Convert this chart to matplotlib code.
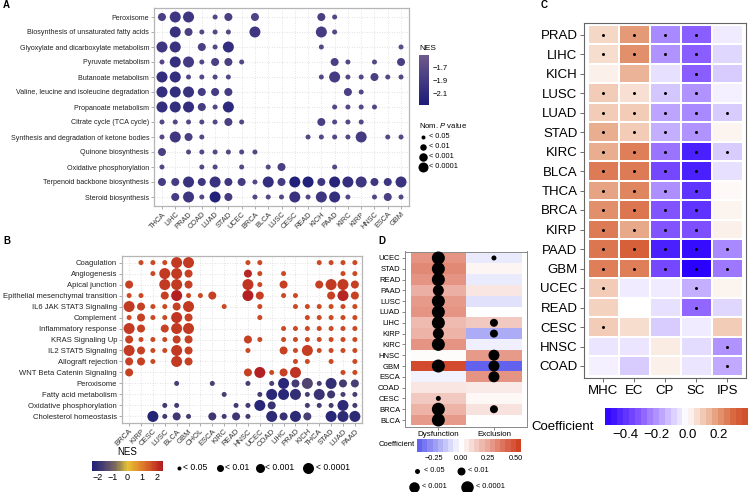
import numpy as np
import matplotlib
matplotlib.use("Agg")
import matplotlib.pyplot as plt
from matplotlib.colors import LinearSegmentedColormap, Normalize

plt.rcParams['font.family'] = ['Liberation Sans', 'DejaVu Sans']
plt.rcParams['mathtext.fontset'] = 'custom'
plt.rcParams['mathtext.rm'] = 'Liberation Sans'
plt.rcParams['mathtext.it'] = 'Liberation Sans:italic'

# ---------------- Panel A data ----------------
A_rows = ["Peroxisome", "Biosynthesis of unsaturated fatty acids", "Glyoxylate and dicarboxylate metabolism",
          "Pyruvate metabolism", "Butanoate metabolism", "Valine, leucine and isoleucine degradation",
          "Propanoate metabolism", "Citrate cycle (TCA cycle)", "Synthesis and degradation of ketone bodies",
          "Quinone biosynthesis", "Oxidative phosphorylation", "Terpenoid backbone biosynthesis",
          "Steroid biosynthesis"]
A_cols = ["THCA", "LIHC", "PRAD", "COAD", "LUAD", "STAD", "UCEC", "BRCA", "BLCA", "LUSC", "CESC",
          "READ", "KICH", "PAAD", "KIRC", "KIRP", "HNSC", "ESCA", "GBM"]
# p-value class: 0 none, 1 <0.05, 2 <0.01, 3 <0.001
A_pclass = [
    [2,3,3,0,1,2,0,2,0,0,0,0,2,1,0,0,0,0,0],
    [0,3,2,1,1,1,0,3,0,0,0,0,3,1,0,0,0,0,0],
    [3,3,0,2,1,3,0,0,0,0,0,0,1,0,0,0,0,0,1],
    [1,3,3,1,2,2,1,0,0,0,0,0,0,2,1,0,1,0,2],
    [3,3,1,1,1,1,0,0,0,0,0,0,1,3,1,1,2,1,1],
    [3,3,3,2,2,2,0,0,0,0,0,0,0,0,2,1,0,0,0],
    [3,3,3,2,1,3,0,0,0,0,0,0,0,1,1,1,1,0,0],
    [1,1,1,1,1,2,1,0,0,0,0,0,2,1,1,1,0,0,0],
    [1,3,2,1,0,0,0,0,0,0,0,1,1,1,1,3,0,1,1],
    [2,0,1,1,1,1,1,1,0,0,0,0,0,0,0,0,0,0,0],
    [1,0,0,1,1,0,1,0,1,2,0,0,0,1,0,0,0,0,0],
    [2,2,3,2,3,2,2,1,3,2,3,3,2,3,3,3,2,2,3],
    [0,2,3,1,3,2,0,1,1,1,3,1,3,3,1,0,1,2,1],
]
A_nes = [
    [-1.85,-1.95,-1.95,0,-1.75,-1.85,0,-1.8,0,0,0,0,-1.85,-1.75,0,0,0,0,0],
    [0,-2.0,-1.85,-1.75,-1.75,-1.75,0,-1.95,0,0,0,0,-1.9,-1.75,0,0,0,0,0],
    [-1.95,-2.0,0,-1.85,-1.75,-2.05,0,0,0,0,0,0,-1.75,0,0,0,0,0,-1.7],
    [-1.75,-2.05,-1.9,-1.75,-1.85,-1.85,-1.75,0,0,0,0,0,0,-1.85,-1.75,0,-1.75,0,-1.85],
    [-2.05,-2.05,-1.75,-1.75,-1.75,-1.75,0,0,0,0,0,0,-1.75,-1.9,-1.75,-1.75,-1.85,-1.75,-1.75],
    [-2.05,-2.05,-2.0,-1.9,-1.9,-1.9,0,0,0,0,0,0,0,0,-1.85,-1.75,0,0,0],
    [-2.05,-2.05,-2.05,-1.9,-1.75,-2.1,0,0,0,0,0,0,0,-1.75,-1.75,-1.75,-1.75,0,0],
    [-1.75,-1.75,-1.75,-1.75,-1.75,-1.85,-1.75,0,0,0,0,0,-1.85,-1.75,-1.75,-1.75,0,0,0],
    [-1.75,-1.95,-1.85,-1.75,0,0,0,0,0,0,0,-1.75,-1.75,-1.75,-1.75,-1.9,0,-1.75,-1.75],
    [-1.85,0,-1.75,-1.75,-1.75,-1.75,-1.75,-1.75,0,0,0,0,0,0,0,0,0,0,0],
    [-1.75,0,0,-1.75,-1.75,0,-1.75,0,-1.75,-1.85,0,0,0,-1.75,0,0,0,0,0],
    [-1.9,-1.9,-2.0,-1.95,-2.0,-1.95,-1.9,-1.75,-2.05,-1.9,-2.2,-2.2,-1.95,-2.15,-2.05,-1.95,-1.95,-1.95,-2.0],
    [0,-1.9,-1.95,-1.75,-2.2,-1.9,0,-1.75,-1.75,-1.75,-2.0,-1.75,-1.95,-2.05,-1.75,0,-1.75,-1.85,-1.75],
]
A_nes_ticks = [-1.7, -1.9, -2.1]

# ---------------- Panel B data ----------------
B_rows = ["Coagulation", "Angiogenesis", "Apical junction", "Epithelial mesenchymal transition",
          "IL6 JAK STAT3 Signaling", "Complement", "Inflammatory response", "KRAS Signaling Up",
          "IL2 STAT5 Signaling", "Allograft rejection", "WNT Beta Catenin Signaling", "Peroxisome",
          "Fatty acid metabolism", "Oxidative phosphorylation", "Cholesterol homeostasis"]
B_cols = ["BRCA", "KIRP", "CESC", "LUSC", "BLCA", "GBM", "CHOL", "ESCA", "KIRC", "READ", "HNSC",
          "UCEC", "COAD", "LIHC", "PRAD", "KICH", "THCA", "STAD", "LUAD", "PAAD"]
B_pclass = [
    [0,1,1,1,3,3,0,0,0,0,1,1,0,0,0,0,1,1,1,1],
    [0,0,1,3,3,2,0,0,0,0,2,1,0,1,0,0,0,0,1,1],
    [2,0,0,3,3,2,0,0,0,0,3,1,0,2,0,0,2,3,3,2],
    [1,1,0,2,3,1,1,2,0,0,3,2,0,1,1,0,0,2,3,2],
    [3,2,1,1,2,3,0,0,1,0,0,1,0,0,1,1,1,1,1,1],
    [1,2,1,1,3,2,0,0,0,0,0,1,0,0,0,1,1,1,1,1],
    [3,2,0,2,3,3,0,0,0,0,0,0,0,1,1,1,1,1,1,1],
    [2,1,1,1,2,2,0,0,0,0,2,1,0,1,1,1,1,1,1,1],
    [3,2,1,1,3,2,0,0,0,0,1,0,0,2,1,3,1,1,1,1],
    [2,2,1,0,3,2,0,0,0,0,0,0,0,0,1,1,0,1,0,1],
    [2,0,0,0,0,0,0,0,0,0,2,3,1,2,3,0,0,0,1,1],
    [0,0,0,0,1,0,0,1,0,0,1,0,1,3,2,3,1,3,2,2],
    [0,0,0,0,0,0,0,0,1,0,0,1,3,3,3,1,3,2,1,1],
    [0,0,0,1,1,0,0,0,0,1,1,3,2,0,0,1,1,1,3,1],
    [0,0,3,1,2,1,0,2,1,2,1,0,3,2,3,2,0,3,3,3],
]
B_nes = [
    [0,1.7,1.7,1.7,1.9,1.9,0,0,0,0,1.7,1.7,0,0,0,0,1.7,1.7,1.7,1.7],
    [0,0,1.7,1.9,1.9,1.8,0,0,0,0,2.2,1.7,0,1.7,0,0,0,0,1.7,1.7],
    [1.8,0,0,1.9,1.9,1.8,0,0,0,0,1.95,1.7,0,1.8,0,0,1.8,1.9,1.9,1.8],
    [1.7,1.7,0,1.8,2.3,1.7,1.7,1.8,0,0,2.3,1.8,0,1.7,1.7,0,0,1.8,2.2,1.8],
    [1.9,1.8,1.7,1.7,1.8,1.9,0,0,1.7,0,0,1.7,0,0,1.7,1.7,1.7,1.7,1.7,1.7],
    [1.7,1.8,1.7,1.7,1.95,1.8,0,0,0,0,0,1.7,0,0,0,1.7,1.7,1.7,1.7,1.7],
    [1.9,1.8,0,1.8,1.9,1.9,0,0,0,0,0,0,0,1.7,1.7,1.7,1.7,1.7,1.7,1.7],
    [1.8,1.7,1.7,1.7,1.8,1.8,0,0,0,0,1.8,1.7,0,1.7,1.7,1.7,1.7,1.7,1.7,1.7],
    [1.9,1.8,1.7,1.7,1.9,1.8,0,0,0,0,1.7,0,0,1.8,1.7,1.85,1.7,1.7,1.7,1.7],
    [1.8,1.8,1.7,0,1.9,1.8,0,0,0,0,0,0,0,0,1.7,1.7,0,1.7,0,1.7],
    [1.8,0,0,0,0,0,0,0,0,0,1.8,2.3,1.7,1.8,2.0,0,0,0,1.7,1.7],
    [0,0,0,0,-1.6,0,0,-1.6,0,0,-1.6,0,-1.6,-2.2,-1.7,-1.5,-1.6,-2.0,-1.7,-1.6],
    [0,0,0,0,0,0,0,0,-1.6,0,0,-1.6,-2.2,-2.2,-2.0,-1.6,-1.9,-1.8,-1.6,-1.6],
    [0,0,0,-1.7,-1.7,0,0,0,0,-1.7,-1.7,-2.2,-1.9,0,0,-1.7,-1.7,-1.7,-2.1,-1.7],
    [0,0,-2.3,-1.7,-1.8,-1.7,0,-1.8,-1.7,-1.8,-1.7,0,-2.1,-1.9,-2.1,-1.6,0,-2.2,-2.1,-2.1],
]
B_nes_ticks = [-2, -1, 0, 1, 2]

P_labels = ["< 0.05", "< 0.01", "< 0.001", "< 0.0001"]

# ---------------- Panel C data ----------------
C_rows = ["PRAD", "LIHC", "KICH", "LUSC", "LUAD", "STAD", "KIRC", "BLCA", "THCA", "BRCA", "KIRP",
          "PAAD", "GBM", "UCEC", "READ", "CESC", "HNSC", "COAD"]
C_cols = ["MHC", "EC", "CP", "SC", "IPS"]
C_coef = [
    [0.08, 0.20, -0.22, -0.30, -0.04],
    [0.07, 0.22, -0.20, -0.30, -0.08],
    [0.03, 0.15, -0.06, -0.30, -0.10],
    [0.10, 0.06, -0.11, -0.20, -0.03],
    [0.10, 0.10, -0.17, -0.22, -0.10],
    [0.16, 0.10, -0.15, -0.20, 0.02],
    [0.16, 0.25, -0.26, -0.45, -0.10],
    [0.26, 0.26, -0.35, -0.45, -0.06],
    [0.18, 0.24, -0.21, -0.40, 0.01],
    [0.22, 0.27, -0.32, -0.40, 0.02],
    [0.26, 0.17, -0.32, -0.33, 0.03],
    [0.27, 0.32, -0.45, -0.50, -0.22],
    [0.25, 0.25, -0.35, -0.53, -0.25],
    [0.10, -0.04, -0.04, -0.15, 0.02],
    [0.09, 0.00, -0.06, -0.28, -0.08],
    [0.10, 0.07, -0.10, -0.04, 0.10],
    [-0.05, -0.05, 0.04, -0.07, -0.20],
    [-0.03, -0.10, 0.03, -0.05, -0.16],
]
C_sig = [
    [1,1,1,1,0],[1,1,1,1,0],[0,0,0,1,0],[1,1,1,1,0],[1,1,1,1,1],[1,1,1,1,0],
    [1,1,1,1,1],[1,1,1,1,0],[1,1,1,1,0],[1,1,1,1,0],[1,1,1,1,0],[1,1,1,1,1],
    [1,1,1,1,1],[1,0,0,1,0],[0,0,0,1,0],[1,0,0,0,0],[0,0,0,0,1],[0,0,0,0,1],
]
C_ticks = [-0.4, -0.2, 0.0, 0.2]

# ---------------- Panel D data ----------------
D_rows = ["UCEC", "STAD", "READ", "PAAD", "LUSC", "LUAD", "LIHC", "KIRP", "KIRC", "HNSC", "GBM",
          "ESCA", "COAD", "CESC", "BRCA", "BLCA"]
D_cols = ["Dysfunction", "Exclusion"]
D_dys_coef = [0.30, 0.33, 0.30, 0.22, 0.28, 0.30, 0.19, 0.21, 0.30, 0.01, 0.50, -0.03, 0.07, 0.15, 0.21, 0.28]
D_exc_coef = [-0.05, 0.03, -0.05, 0.07, -0.07, 0.0, 0.15, -0.20, -0.04, 0.28, -0.38, 0.30, 0.06, 0.02, 0.08, 0.0]
D_dys_p = [4, 4, 4, 3, 4, 4, 4, 3, 4, 0, 4, 0, 0, 1, 4, 4]
D_exc_p = [1, 0, 0, 0, 0, 0, 2, 2, 0, 3, 3, 3, 0, 0, 2, 0]
D_ticks = [-0.25, 0.0, 0.25, 0.50]

# ---------------- figure ----------------
W, H = 749, 492
fig = plt.figure(figsize=(W / 100, H / 100), dpi=100)


def add_ax(x0, y0, x1, y1):
    return fig.add_axes([x0 / W, 1 - y1 / H, (x1 - x0) / W, (y1 - y0) / H])


def s_of(d):
    return (0.72 * d) ** 2


DOT = {1: 5, 2: 8, 3: 11, 4: 13}

cmA = LinearSegmentedColormap.from_list("A", ["#1b1b78", "#6e5b8c"])
normA = Normalize(-2.27, -1.52)
cmB = LinearSegmentedColormap.from_list("B", [
    (0.0, "#1f2078"), (0.1667, "#4a3f72"), (0.333, "#7d6b5f"), (0.4375, "#b9a045"),
    (0.5, "#e6c235"), (0.667, "#e28a2c"), (0.8125, "#d35a26"), (0.9167, "#bf3322"), (1.0, "#ae1a23")])
normB = Normalize(-2.4, 2.4)


def dotpanel(ax, rows, cols, pclass, nes, cmap, norm, fs_y, fs_x):
    S = np.array(pclass)
    N = np.array(nes, float)
    jj, ii = np.nonzero(S)
    d = np.array([DOT[v] for v in S[jj, ii]])
    ax.scatter(ii, jj, s=s_of(d), c=N[jj, ii], cmap=cmap, norm=norm, linewidths=0, zorder=3)
    ax.set_xticks(range(len(cols)))
    ax.set_xticklabels(cols, rotation=45, ha='right', rotation_mode='anchor', fontsize=fs_x, color='#333333')
    ax.set_yticks(range(len(rows)))
    ax.set_yticklabels(rows, fontsize=fs_y, color='#222222')
    ax.set_xlim(-0.6, len(cols) - 0.4)
    ax.set_ylim(len(rows) - 0.4, -0.6)
    ax.grid(True, ls=(0, (1, 2)), color='#d8d8d8', lw=0.6)
    ax.set_axisbelow(True)
    for s in ax.spines.values():
        s.set_color('#b5b5b5')
        s.set_linewidth(0.9)
    ax.tick_params(length=2, width=0.5, color='#888888', pad=1.5)


# Panel A
axA = add_ax(154, 8, 409, 206)
dotpanel(axA, A_rows, A_cols, A_pclass, A_nes, cmA, normA, 5.15, 5.3)

# Panel B
axB = add_ax(122, 256, 362, 423)
dotpanel(axB, B_rows, B_cols, B_pclass, B_nes, cmB, normB, 5.5, 5.5)

# Panel C heatmap
z0 = 0.53 / 0.92
cmC = LinearSegmentedColormap.from_list("C", [
    (0.0, "#2a00ff"), (z0 - 0.3 / 0.92, "#8a5cff"), (z0 - 0.1 / 0.92, "#d8ccff"), (z0, "#ffffff"),
    (z0 + 0.1 / 0.92, "#f2cdb8"), (z0 + 0.2 / 0.92, "#e49a78"), (z0 + 0.3 / 0.92, "#d8673f"), (1.0, "#cf4a2a")])
normC = Normalize(-0.53, 0.39)
axC = add_ax(584.4, 22.8, 745.6, 377.7)
Cm = np.array(C_coef)
axC.pcolormesh(np.arange(len(C_cols) + 1) - 0.5, np.arange(len(C_rows) + 1) - 0.5, Cm,
               cmap=cmC, norm=normC, edgecolors='#ffffff', linewidth=0.25)
jj, ii = np.nonzero(np.array(C_sig))
axC.scatter(ii, jj, s=s_of(3), color='black', linewidths=0, zorder=3)
axC.set_xlim(-0.6, len(C_cols) - 0.4)
axC.set_ylim(len(C_rows) - 0.4, -0.6)
axC.set_xticks(range(len(C_cols)))
axC.set_xticklabels(C_cols, fontsize=9.5)
axC.set_yticks(range(len(C_rows)))
axC.set_yticklabels(C_rows, fontsize=9.5)
axC.tick_params(length=3, width=0.6, color='#555555', pad=2)
for s in axC.spines.values():
    s.set_color('#666666')
    s.set_linewidth(0.8)

# C colorbar
cbC = add_ax(605, 408, 748, 425)
edges = np.linspace(-0.53, 0.39, 25)
cbC.pcolormesh(edges, [0, 1], ((edges[:-1] + edges[1:]) / 2)[None, :], cmap=cmC, norm=normC)
cbC.set_xlim(-0.53, 0.39)
cbC.set_ylim(0, 1)
cbC.set_yticks([])
cbC.set_xticks(C_ticks)
cbC.set_xticklabels(["\u22120.4", "\u22120.2", "0.0", "0.2"], fontsize=9.5)
cbC.tick_params(length=0, pad=3)
for s in cbC.spines.values():
    s.set_visible(False)
fig.text(531 / W, 1 - 427 / H, "Coefficient", fontsize=9.5, ha='left', va='center')

# Panel D heatmap
cmD = LinearSegmentedColormap.from_list("D", [(0.0, "#5a5aee"), (0.4 / 0.95, "#ffffff"), (1.0, "#cf3a1a")])
normD = Normalize(-0.4, 0.55)
axD = add_ax(405, 251.5, 527.3, 426.5)
Dm = np.column_stack([D_dys_coef, D_exc_coef])
axD.pcolormesh(np.arange(3) - 0.5, np.arange(len(D_rows) + 1) - 0.5, Dm, cmap=cmD, norm=normD)
Dp = np.column_stack([D_dys_p, D_exc_p])
jj, ii = np.nonzero(Dp)
axD.scatter(ii, jj, s=s_of(np.array([DOT[v] for v in Dp[jj, ii]])), color='black', linewidths=0, zorder=3)
axD.set_xlim(-0.6, 1.6)
axD.set_ylim(len(D_rows) - 0.4, -0.6)
axD.set_xticks(range(2))
axD.set_xticklabels(D_cols, fontsize=5.8)
axD.set_yticks(range(len(D_rows)))
axD.set_yticklabels(D_rows, fontsize=5.5)
axD.tick_params(length=2, width=0.5, color='#555555', pad=1.5)
for s in axD.spines.values():
    s.set_color('#888888')
    s.set_linewidth(0.7)

cbD = add_ax(417, 439, 521, 452)
edges = np.linspace(-0.4, 0.55, 21)
cbD.pcolormesh(edges, [0, 1], ((edges[:-1] + edges[1:]) / 2)[None, :], cmap=cmD, norm=normD)
cbD.set_xlim(-0.4, 0.55)
cbD.set_ylim(0, 1)
cbD.set_yticks([])
cbD.set_xticks(D_ticks)
cbD.set_xticklabels(["\u22120.25", "0.00", "0.25", "0.50"], fontsize=5.3)
cbD.tick_params(length=0, pad=2)
for s in cbD.spines.values():
    s.set_visible(False)
fig.text(415 / W, 1 - 445 / H, "Coefficient", fontsize=5.5, ha='right', va='center')

# ---------------- legends in pixel space ----------------
ov = fig.add_axes([0, 0, 1, 1])
ov.set_xlim(0, W)
ov.set_ylim(H, 0)
ov.axis('off')

# A: NES colorbar
cbA = add_ax(419, 55, 429, 105)
ev = np.linspace(-2.27, -1.52, 40)
cbA.pcolormesh([0, 1], ev, ((ev[:-1] + ev[1:]) / 2)[:, None], cmap=cmA, norm=normA)
cbA.set_ylim(-2.27, -1.52)
cbA.set_xlim(0, 1)
cbA.set_xticks([])
cbA.yaxis.tick_right()
cbA.set_yticks(A_nes_ticks)
cbA.set_yticklabels(["\u22121.7", "\u22121.9", "\u22122.1"], fontsize=5.5)
cbA.tick_params(length=0, pad=2.5)
for s in cbA.spines.values():
    s.set_visible(False)
ov.text(419, 48, "NES", fontsize=6, ha='left', va='center')
ov.text(419, 125, "Nom. $\\mathit{P}$ value", fontsize=5.6, ha='left', va='center')
for k, (lab, d) in enumerate(zip(P_labels, [4, 6.5, 8.5, 10])):
    y = 137 + k * 10
    ov.scatter([423], [y], s=s_of(d), color='black', linewidths=0)
    ov.text(429, y, lab, fontsize=5.3, ha='left', va='center')

# B: NES colorbar and size legend
cbB = add_ax(92, 461, 163, 471)
ev = np.linspace(-2.4, 2.4, 60)
cbB.pcolormesh(ev, [0, 1], ((ev[:-1] + ev[1:]) / 2)[None, :], cmap=cmB, norm=normB)
cbB.set_xlim(-2.4, 2.4)
cbB.set_ylim(0, 1)
cbB.set_yticks([])
cbB.set_xticks(B_nes_ticks)
cbB.set_xticklabels(["\u22122", "\u22121", "0", "1", "2"], fontsize=6.5)
cbB.tick_params(length=0, pad=1.5)
for s in cbB.spines.values():
    s.set_visible(False)
ov.text(127, 452, "NES", fontsize=7, ha='center', va='center')
for xd, xt, lab, d in zip([179, 220, 260, 308], [183, 225, 265, 316], P_labels, [4, 7, 9, 11]):
    ov.scatter([xd], [468], s=s_of(d), color='black', linewidths=0)
    ov.text(xt, 468, lab, fontsize=6.2, ha='left', va='center')

# D: size legend
for (xd, yd, xt, lab, d) in [(417, 471, 424, P_labels[0], 5), (461, 471, 468, P_labels[1], 8),
                            (414, 487, 422, P_labels[2], 10.5), (467, 487, 476, P_labels[3], 12.5)]:
    ov.scatter([xd], [yd], s=s_of(d), color='black', linewidths=0)
    ov.text(xt, yd, lab, fontsize=5.3, ha='left', va='center')

# panel letters
for (x, y, t) in [(3, 5, "A"), (3, 241, "B"), (541, 5, "C"), (378, 241, "D")]:
    ov.text(x, y, t, fontsize=7, fontweight='bold', ha='left', va='center')

fig.savefig("out.png", dpi=100)
